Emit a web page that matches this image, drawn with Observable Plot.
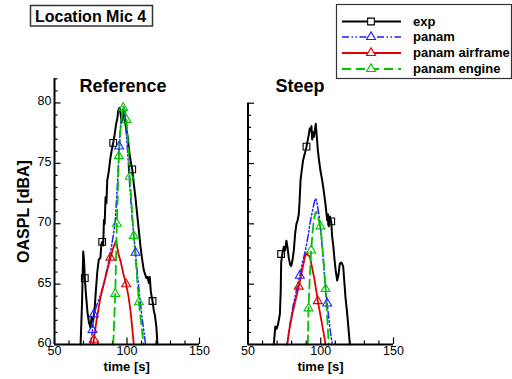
<!DOCTYPE html>
<html><head><meta charset="utf-8">
<script src="https://cdn.jsdelivr.net/npm/d3@7"></script>
<script src="https://cdn.jsdelivr.net/npm/@observablehq/plot@0.6"></script>
<style>
body{margin:0;background:#fff;}
#wrap{position:relative;width:512px;height:379px;overflow:hidden;}
#wrap > div, #wrap > svg{position:absolute;top:0;}
</style></head><body><div id="wrap"></div>
<script>
// ---------- data ----------
const xMajor = [50, 100, 150];
const xMinor = [60, 70, 80, 90, 110, 120, 130, 140];
const yMajor = [60, 65, 70, 75, 80];

// Reference panel
const refExpT = [68.0, 69.0, 69.8, 70.4, 70.9, 71.8, 72.8, 73.8, 74.8, 75.6, 76.6, 77.6, 78.5, 79.5, 80.5, 81.7, 82.3, 82.9, 83.6, 84.1, 84.6, 85.2, 85.8, 86.4, 87.4, 88.5, 89.6, 90.5, 91.5, 92.4, 93.3, 94.0, 94.9, 95.6, 96.2, 96.8, 97.6, 98.3, 99.0, 99.7, 100.6, 101.5, 102.5, 103.6, 104.6, 105.8, 107.0, 108.2, 109.3, 110.5, 111.5, 112.5, 113.4, 114.2, 115.0, 115.7, 116.4, 117.6, 118.5, 119.3, 120.3, 121.0];
const refExpV = [60.0, 63.5, 67.7, 66.9, 65.5, 64.0, 62.6, 61.8, 61.4, 62.3, 61.9, 62.8, 64.4, 66.0, 67.0, 67.2, 68.3, 68.5, 68.2, 70.3, 70.0, 72.2, 71.7, 73.6, 74.3, 75.4, 76.2, 76.7, 77.4, 78.2, 78.7, 79.4, 79.6, 79.1, 78.4, 78.6, 79.3, 79.0, 78.2, 77.7, 77.1, 76.0, 75.2, 74.5, 73.4, 72.2, 70.8, 69.4, 68.1, 67.0, 66.2, 65.8, 65.5, 65.6, 65.1, 65.6, 64.4, 63.6, 62.8, 62.4, 61.4, 60.0];
const refExpMarkT = [70.9, 82.9, 90.5, 103.6, 117.6];
const refExpMarkV = [65.5, 68.5, 76.7, 74.5, 63.6];

const refPanT = [74.8, 76.2, 77.1, 79.0, 82.0, 85.0, 88.0, 90.5, 92.0, 93.5, 94.6, 95.8, 96.8, 97.5, 98.3, 99.3, 100.5, 102.0, 103.5, 104.8, 105.9, 107.2, 108.5, 110.0, 111.5, 112.8];
const refPanV = [60.0, 61.2, 62.5, 63.2, 64.2, 65.6, 67.2, 69.0, 70.4, 73.5, 76.4, 78.3, 79.4, 79.7, 79.3, 77.8, 75.8, 73.0, 70.5, 68.8, 67.6, 65.8, 64.2, 62.6, 61.2, 60.0];
const refPanMarkT = [76.2, 77.1, 94.6, 105.9];
const refPanMarkV = [61.2, 62.5, 76.4, 67.6];

const refAirT = [76.7, 77.1, 79.0, 81.7, 84.0, 86.5, 88.6, 90.5, 92.5, 94.1, 95.8, 97.4, 99.4, 101.0, 102.4, 103.5, 104.7];
const refAirV = [60.0, 60.4, 62.0, 63.9, 65.0, 66.2, 67.2, 68.0, 68.6, 67.5, 66.8, 65.9, 65.0, 64.0, 62.8, 61.5, 60.0];
const refAirMarkT = [77.1, 88.6, 99.4];
const refAirMarkV = [60.4, 67.2, 65.0];

const refEngT = [90.5, 91.9, 93.0, 94.4, 95.8, 97.4, 98.5, 99.7, 101.9, 104.7, 108.2, 110.0, 111.5];
const refEngV = [60.0, 64.2, 70.0, 75.6, 78.3, 79.7, 79.4, 78.6, 73.9, 69.0, 63.5, 61.5, 60.0];
const refEngMarkT = [91.9, 93.0, 94.4, 97.4, 99.7, 101.9, 104.7, 108.2];
const refEngMarkV = [64.2, 70.0, 75.6, 79.6, 78.6, 73.9, 69.0, 63.5];

// Steep panel
const stpExpT = [67.7, 68.8, 69.6, 70.5, 71.9, 72.5, 72.8, 73.6, 74.6, 75.5, 76.4, 77.2, 78.0, 79.0, 79.7, 80.6, 81.5, 82.4, 83.3, 84.1, 84.9, 85.5, 86.1, 87.0, 87.9, 89.0, 90.2, 91.0, 91.8, 92.4, 93.0, 93.6, 94.1, 94.7, 95.3, 96.0, 96.6, 97.3, 98.0, 98.9, 99.8, 101.0, 102.1, 103.3, 104.4, 105.0, 105.5, 106.3, 107.2, 107.8, 108.6, 109.5, 110.4, 111.3, 112.2, 113.1, 114.2, 115.4, 116.2, 117.0, 117.8, 118.6, 119.3, 120.0];
const stpExpV = [60.0, 61.5, 61.3, 61.6, 62.5, 64.5, 66.8, 67.5, 68.1, 67.8, 68.6, 68.0, 67.2, 66.6, 66.5, 67.0, 67.8, 69.2, 70.0, 70.3, 70.8, 72.0, 73.6, 74.5, 75.3, 75.8, 76.4, 76.9, 77.4, 77.9, 77.7, 78.1, 77.0, 77.6, 77.2, 77.8, 78.3, 77.2, 76.1, 75.2, 74.4, 73.6, 72.7, 71.6, 70.3, 70.8, 69.8, 70.6, 70.2, 69.0, 68.2, 67.0, 66.0, 65.3, 65.8, 66.7, 66.8, 66.5, 65.2, 63.9, 63.0, 62.0, 61.0, 60.0];
const stpExpMarkT = [72.8, 90.2, 107.2];
const stpExpMarkV = [67.5, 76.4, 70.2];

const stpPanT = [76.9, 79.0, 81.0, 83.5, 85.6, 87.5, 89.5, 91.3, 93.0, 94.2, 95.2, 96.0, 96.6, 97.3, 98.7, 100.0, 101.0, 102.0, 102.8, 103.6, 104.4, 105.5, 106.7, 107.9];
const stpPanV = [60.0, 61.8, 63.2, 64.6, 65.7, 66.8, 67.8, 69.0, 70.3, 71.0, 71.6, 72.0, 72.1, 71.8, 70.8, 69.4, 68.1, 66.6, 65.3, 64.3, 63.4, 62.2, 61.0, 60.0];
const stpPanMarkT = [85.6, 104.4];
const stpPanMarkV = [65.7, 63.4];

const stpAirT = [76.9, 78.5, 80.4, 82.5, 84.9, 87.0, 89.0, 90.2, 91.2, 92.5, 94.0, 95.5, 97.0, 98.0, 99.5, 101.0, 102.2, 103.3];
const stpAirV = [60.0, 61.3, 62.5, 63.6, 64.8, 66.0, 67.2, 67.6, 67.4, 67.3, 66.4, 65.5, 64.4, 63.6, 62.6, 61.6, 60.8, 60.0];
const stpAirMarkT = [84.9, 98.0];
const stpAirMarkV = [64.8, 63.6];

const stpEngT = [91.1, 91.6, 92.5, 93.4, 94.5, 95.5, 96.3, 97.1, 98.0, 99.0, 99.8, 101.0, 102.2, 103.3, 104.4, 105.5];
const stpEngV = [60.0, 63.0, 65.6, 67.8, 69.5, 70.5, 70.9, 71.0, 70.6, 70.1, 69.8, 68.3, 66.5, 64.6, 62.3, 60.0];
const stpEngMarkT = [91.6, 93.4, 99.8, 103.3];
const stpEngMarkV = [63.0, 67.8, 69.8, 64.6];

const seriesNames = ["exp", "panam", "panam airframe", "panam engine"];
const seriesColors = ["#000000", "#1f1fff", "#e00000", "#00c400"];
const seriesDash = [null, "7,2.5,1.5,2.5,1.5,2.5", null, "9,5"];
const seriesWidth = [2, 1.5, 1.8, 1.8];
const seriesSymbol = ["square", "triangle", "triangle", "triangle"];

// ---------- drawing ----------
const FONT = '"Liberation Sans", Arial, Helvetica, sans-serif';
const rows = (T, V) => T.map((t, i) => ({t, v: V[i]}));

function panel({width, mL, mR, mT, yTop, showYLabels, lines, marks}) {
  const yMinorAll = d3.range(60, yTop + 1, 1).filter(v => v % 5 !== 0);
  const m = [
    Plot.axisY(yMinorAll, {tickSize: 3.5, dx: 3.5, tickFormat: () => "", label: null, strokeWidth: 1.2}),
    Plot.axisY(yMajor, {tickSize: 6.5, dx: 6.5, tickFormat: () => "", label: null, strokeWidth: 1.2}),
    Plot.axisX(xMinor, {tickSize: 3.5, dy: -3.5, tickFormat: () => "", label: null, strokeWidth: 1.2}),
    Plot.axisX(xMajor, {tickSize: 6.5, dy: -6.5, tickFormat: () => "", label: null, strokeWidth: 1.2}),
    Plot.axisX(xMajor, {tickSize: 0, tickPadding: 2, label: null, fontSize: 12.5})
  ];
  if (showYLabels) m.push(Plot.axisY(yMajor, {tickSize: 0, tickPadding: 3, dy: -1.5, label: null, fontSize: 12.5}));
  lines.forEach((l, k) => {
    m.push(Plot.line(l, {x: "t", y: "v", stroke: seriesColors[k], strokeWidth: seriesWidth[k],
      strokeDasharray: seriesDash[k], strokeLinejoin: "round"}));
  });
  marks.forEach((d, k) => {
    m.push(Plot.dot(d, {x: "t", y: "v", symbol: seriesSymbol[k], stroke: seriesColors[k],
      fill: "white", fillOpacity: 0, strokeWidth: 1.1, r: k === 0 ? 3.8 : 3.3}));
  });
  m.push(Plot.ruleX([50], {y1: 60, y2: yTop, strokeWidth: 2}));
  m.push(Plot.ruleY([60], {x1: 50, x2: 150, strokeWidth: 2}));
  return Plot.plot({
    width, height: 379,
    marginLeft: mL, marginRight: mR, marginTop: mT, marginBottom: 35,
    x: {domain: [50, 150]},
    y: {domain: [60, yTop]},
    style: {fontFamily: FONT, fontSize: "12.5px", color: "black", background: "transparent", overflow: "visible"},
    marks: m
  });
}

const wrap = document.getElementById("wrap");

const left = panel({
  width: 210, mL: 54, mR: 11, mT: 78.3, yTop: 82, showYLabels: true,
  lines: [rows(refExpT, refExpV), rows(refPanT, refPanV), rows(refAirT, refAirV), rows(refEngT, refEngV)],
  marks: [rows(refExpMarkT, refExpMarkV), rows(refPanMarkT, refPanMarkV), rows(refAirMarkT, refAirMarkV), rows(refEngMarkT, refEngMarkV)]
});
const d1 = document.createElement("div"); d1.style.left = "0px"; d1.appendChild(left); wrap.appendChild(d1);

const right = panel({
  width: 200, mL: 37.5, mR: 17, mT: 102.7, yTop: 80, showYLabels: false,
  lines: [rows(stpExpT, stpExpV), rows(stpPanT, stpPanV), rows(stpAirT, stpAirV), rows(stpEngT, stpEngV)],
  marks: [rows(stpExpMarkT, stpExpMarkV), rows(stpPanMarkT, stpPanMarkV), rows(stpAirMarkT, stpAirMarkV), rows(stpEngMarkT, stpEngMarkV)]
});
const d2 = document.createElement("div"); d2.style.left = "210px"; d2.appendChild(right); wrap.appendChild(d2);

// overlay: titles, axis labels, legend
const svg = d3.select(wrap).append("svg").attr("width", 512).attr("height", 379)
  .style("left", "0px").style("font-family", FONT).style("font-weight", "bold");

svg.append("rect").attr("x", 30.5).attr("y", 5.5).attr("width", 122).attr("height", 20.5)
  .attr("fill", "none").attr("stroke", "#333").attr("stroke-width", 1.5);
svg.append("text").attr("x", 35).attr("y", 21.5).attr("font-size", 16).text("Location Mic 4");

svg.append("text").attr("x", 123).attr("y", 92).attr("font-size", 18).attr("text-anchor", "middle").text("Reference");
svg.append("text").attr("x", 300).attr("y", 92).attr("font-size", 18).attr("text-anchor", "middle").text("Steep");

svg.append("text").attr("transform", "translate(29,211.5) rotate(-90)").attr("font-size", 16)
  .attr("text-anchor", "middle").text("OASPL [dBA]");
svg.append("text").attr("x", 126.7).attr("y", 370.5).attr("font-size", 13).attr("text-anchor", "middle").text("time [s]");
svg.append("text").attr("x", 320.5).attr("y", 370.5).attr("font-size", 13).attr("text-anchor", "middle").text("time [s]");

// legend
svg.append("rect").attr("x", 336.5).attr("y", 4.5).attr("width", 175).attr("height", 74)
  .attr("fill", "white").attr("stroke", "#333").attr("stroke-width", 1.2);
const rowY = [21.5, 37, 53, 69];
seriesNames.forEach((name, k) => {
  const y = rowY[k];
  svg.append("line").attr("x1", 342).attr("x2", 401).attr("y1", y).attr("y2", y)
    .attr("stroke", seriesColors[k]).attr("stroke-width", seriesWidth[k])
    .attr("stroke-dasharray", seriesDash[k]);
  const sym = k === 0 ? d3.symbol(d3.symbolSquare, Math.PI * 3.8 * 3.8) : d3.symbol(d3.symbolTriangle, Math.PI * 3.3 * 3.3);
  svg.append("path").attr("d", sym()).attr("transform", `translate(371,${y})`)
    .attr("fill", "white").attr("stroke", seriesColors[k]).attr("stroke-width", 1.1);
  svg.append("text").attr("x", 413).attr("y", y + 4.3).attr("font-size", 13).text(name);
});
</script></body></html>
